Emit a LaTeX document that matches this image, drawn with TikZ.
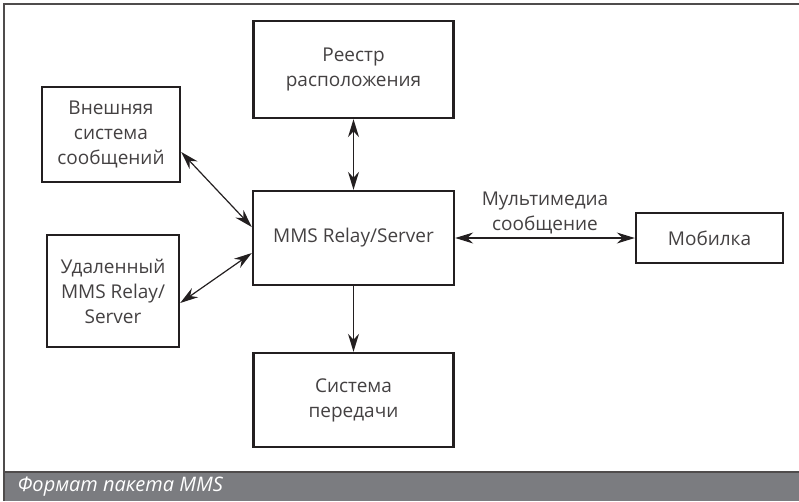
\documentclass[tikz,border=0pt]{standalone}
\usepackage{fontspec}
\setmainfont{Open Sans}
\usetikzlibrary{arrows.meta}
\definecolor{ink}{HTML}{231F20}
\definecolor{capbar}{HTML}{7B7C80}

\begin{document}
\begin{tikzpicture}[x=1pt,y=-1pt,
    box/.style={draw=ink,line width=2.4pt,align=center,inner sep=0pt,
        text=ink!85,font=\fontsize{19}{25}\selectfont},
    both/.style={draw=ink,line width=1.2pt,{Stealth[length=18pt,width=11pt]}-{Stealth[length=18pt,width=11pt]}},
    one/.style={draw=ink,line width=1.2pt,-{Stealth[length=18pt,width=11pt]}}]
    \useasboundingbox (0,0) rectangle (799,501);
    % frame and caption bar
    \fill [capbar] (4,472) rectangle (799,501);
    \draw [ink!80,line width=1.3pt] (4,501) -- (4,4) -- (799,4);
    \draw [ink!80,line width=1.3pt] (4,472) -- (799,472);
    \node [anchor=west,text=white,font=\itshape\fontsize{20}{22}\selectfont] (cap) at (14,487) {Формат пакета MMS};
    % boxes
    \node [box,minimum width=200pt,minimum height=97pt] (reg) at (353.5,69.5) {Реестр\\расположения};
    \node [box,minimum width=138pt,minimum height=95pt] (ext) at (111,134.5) {Внешняя\\система\\сообщений};
    \node [box,minimum width=201pt,minimum height=94pt] (mms) at (353.5,238) {MMS Relay/Server};
    \node [box,minimum width=132pt,minimum height=112pt] (rem) at (113,291) {Удаленный\\MMS Relay/\\Server};
    \node [box,minimum width=200pt,minimum height=94pt] (sys) at (353.5,400) {Система\\передачи};
    \node [box,minimum width=147pt,minimum height=50pt] (mob) at (709.5,238) {Мобилка};
    % links
    \draw [both] (reg) -- (mms);
    \draw [both] ([yshift=-17.5pt]ext.east) -- ([yshift=11pt]mms.west);
    \draw [both] ([yshift=-12pt]rem.east) -- ([yshift=-15pt]mms.west);
    \draw [one] (mms) -- (sys);
    \draw [both] (mms) -- node [above=3pt,align=center,inner sep=0pt,text=ink!85,font=\fontsize{19}{25}\selectfont] (msg) {Мультимедиа\\сообщение} (mob);
\end{tikzpicture}
\end{document}
